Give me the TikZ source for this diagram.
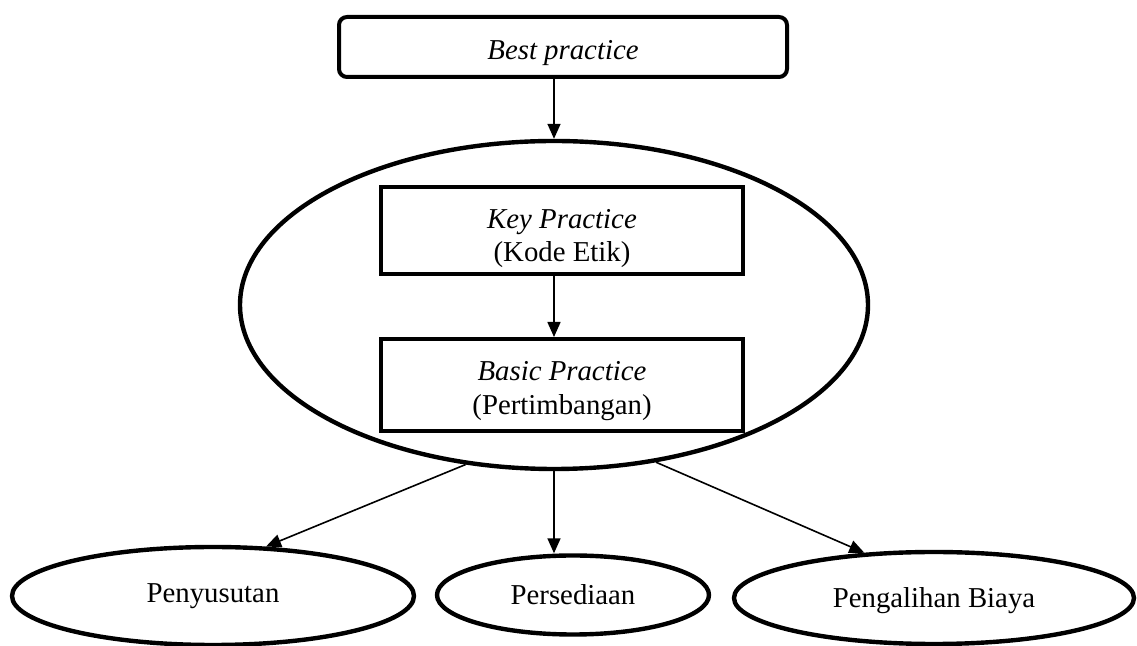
\documentclass[tikz,border=0pt]{standalone}
\usepackage{fontspec}
\setmainfont{Liberation Serif}
\usepackage{tikz}
\usetikzlibrary{shapes,arrows.meta}
\tikzstyle{practice} = [draw=black, line width=2pt,
                        rectangle, align=center,
                        inner sep=0pt, font=\fontsize{14.4}{16.8}\selectfont]
\tikzstyle{bestbox} = [practice, rounded corners=4pt,
                       minimum width=224pt, minimum height=30pt]
\tikzstyle{stage} = [practice, minimum width=181pt]
\tikzstyle{account} = [draw=black, line width=2.2pt, ellipse,
                       inner sep=0pt, font=\fontsize{14.4}{17}\selectfont]
\tikzstyle{link} = [line width=0.8pt, -{Triangle[length=7.5pt, width=6.5pt]}]

\begin{document}
\begin{tikzpicture}[x=0.5pt, y=-0.5pt]%
  \useasboundingbox (0,0) rectangle (1137,646);
  \node [bestbox] (best) at (563,47) {\rule{0pt}{16pt}\textit{Best practice}};
  \node [account, minimum width=314pt, minimum height=164pt] (oval) at (554,305) {};
  \node [stage, minimum height=43.5pt] (key) at (562,231)
        {\rule{0pt}{17pt}\textit{Key Practice}\\(Kode Etik)};
  \node [stage, minimum height=46pt] (basic) at (562,385)
        {\rule{0pt}{15.5pt}\textit{Basic Practice}\\(Pertimbangan)};
  \node [account, minimum width=201pt, minimum height=49pt] (susut) at (213,596) {Penyusutan};
  \node [account, minimum width=136pt, minimum height=39.5pt] (sedia) at (573,595) {Persediaan};
  \node [account, minimum width=200pt, minimum height=46pt] (alih) at (934,598)
        {\rule{0pt}{12.5pt}Pengalihan Biaya};
  \draw [link] (best.south -| oval.north) -- (oval.north);
  \draw [link] (key.south -| oval.north) -- (basic.north -| oval.north);
  \draw [link] (oval.241) -- (susut.43);
  \draw [link] (oval.south) -- (oval.south |- sedia.north);
  \draw [link] (oval.303) -- (alih.147);
\end{tikzpicture}
\end{document}
